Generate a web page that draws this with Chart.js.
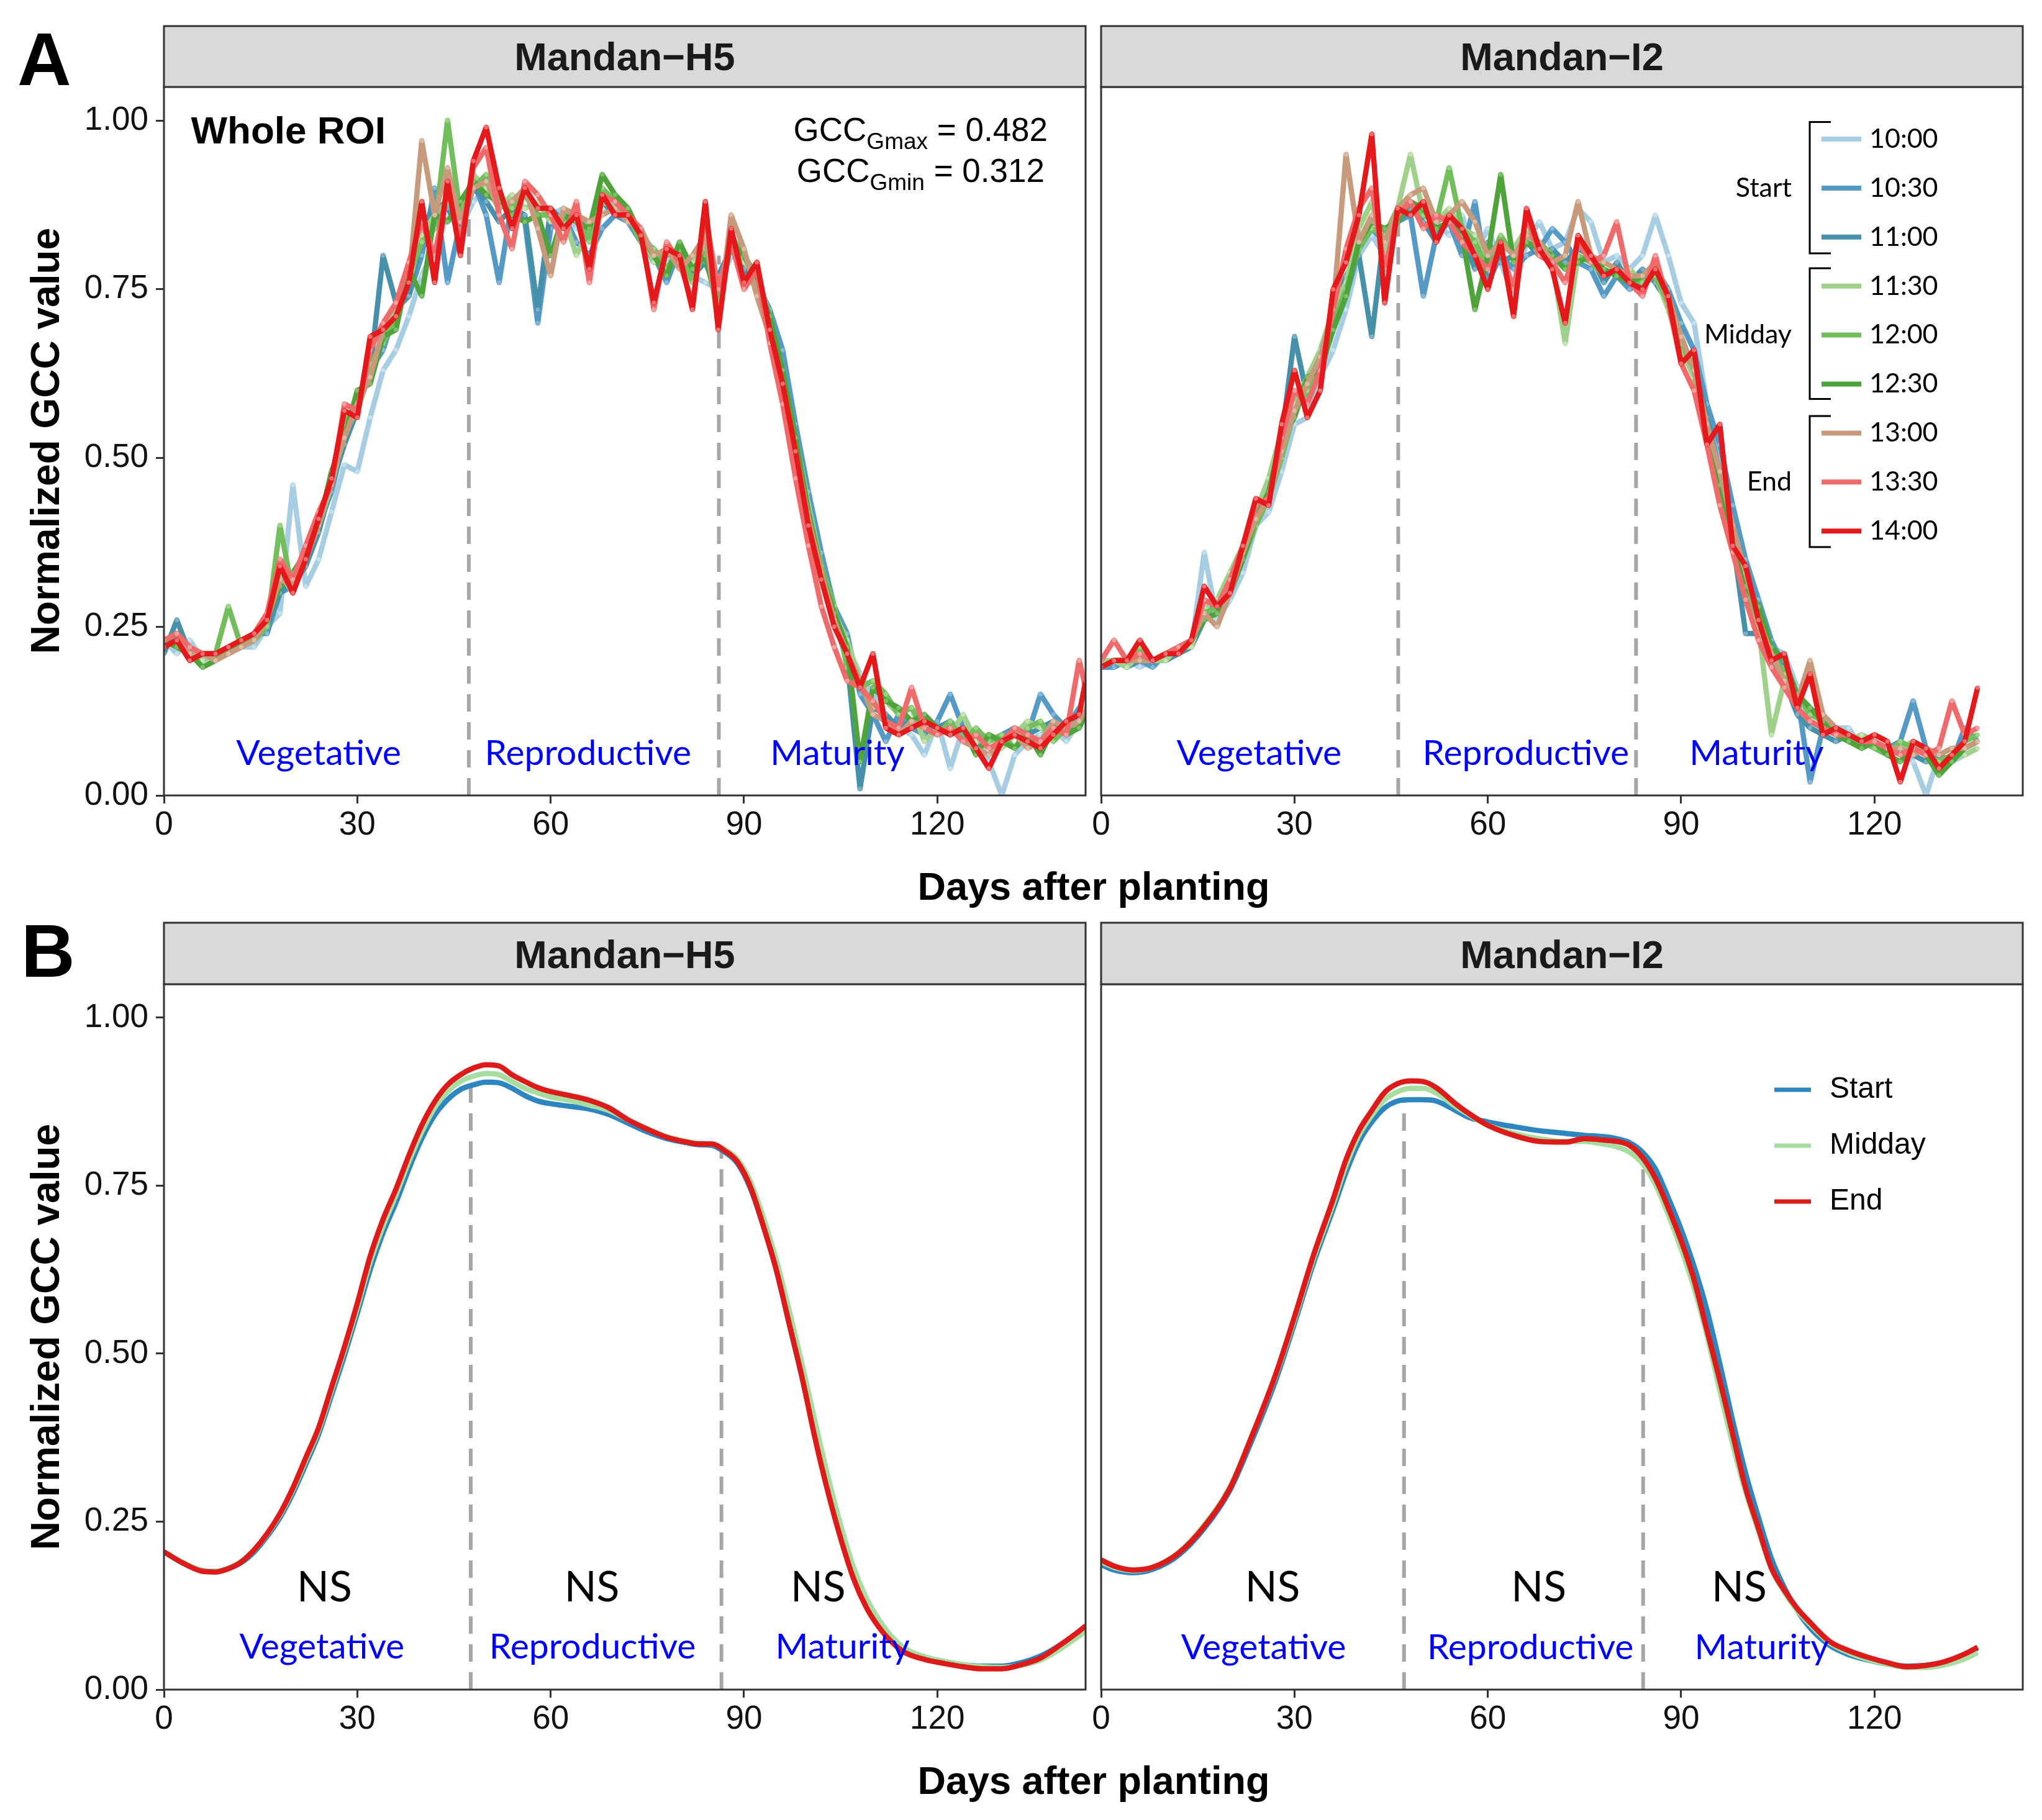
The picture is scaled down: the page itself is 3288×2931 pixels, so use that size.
<!DOCTYPE html>
<html><head><meta charset="utf-8">
<script src="https://cdn.jsdelivr.net/npm/chart.js@4.4.1/dist/chart.umd.min.js"></script>
<style>
html,body{margin:0;padding:0;background:#fff;}
#page{position:relative;width:3288px;height:2931px;overflow:hidden;background:#fff;}
.wrap{position:absolute;}
canvas{display:block;}
#ov{position:absolute;left:0;top:0;pointer-events:none;}
</style></head>
<body><div id="page"></div>
<script>
// ---------------- DATA ----------------
const timeLabels = ['10:00','10:30','11:00','11:30','12:00','12:30','13:00','13:30','14:00'];
const groupLabels = ['Start','Midday','End'];
const siteNames = ['Mandan\u2212H5','Mandan\u2212I2'];
const stageNames = ['Vegetative','Reproductive','Maturity'];
const xTicks = [0,30,60,90,120];
const yTicks = [0,0.25,0.5,0.75,1];

// Panel A, Mandan-H5 (days after planting)
const daysH5A = [0,2,4,6,8,10,12,14,16,18,20,22,24,26,28,30,32,34,36,38,40,42,44,46,48,50,52,54,56,58,60,62,64,66,68,70,72,74,76,78,80,82,84,86,88,90,92,94,96,98,100,102,104,106,108,110,112,114,116,118,120,122,124,126,128,130,132,134,136,138,140,142,143];
const h5_1000 = [.23,.21,.23,.20,.21,.21,.22,.22,.25,.27,.46,.31,.35,.42,.49,.48,.56,.63,.66,.71,.77,.81,.86,.84,.88,.90,.88,.86,.89,.86,.86,.87,.84,.85,.86,.88,.85,.83,.81,.79,.80,.77,.76,.75,.80,.79,.77,.71,.64,.55,.44,.34,.27,.22,.18,.15,.12,.10,.09,.06,.11,.04,.10,.09,.05,.00,.06,.08,.09,.10,.08,.11,.12];
const h5_1030 = [.22,.24,.20,.21,.20,.22,.22,.24,.24,.30,.31,.34,.40,.45,.53,.57,.63,.66,.72,.74,.80,.90,.76,.85,.91,.86,.76,.88,.85,.70,.84,.86,.82,.80,.84,.86,.85,.82,.80,.76,.81,.78,.79,.74,.82,.77,.76,.72,.66,.55,.45,.36,.28,.24,.15,.12,.08,.12,.10,.09,.11,.15,.10,.07,.08,.09,.10,.09,.15,.12,.10,.13,.12];
const h5_1100 = [.21,.26,.21,.20,.21,.21,.22,.23,.25,.30,.32,.34,.39,.46,.52,.57,.63,.80,.73,.74,.83,.88,.87,.84,.90,.88,.85,.87,.86,.72,.87,.85,.86,.83,.88,.86,.86,.83,.79,.80,.81,.77,.79,.77,.81,.78,.75,.70,.63,.53,.42,.33,.26,.20,.01,.13,.12,.10,.11,.09,.10,.11,.09,.08,.09,.08,.10,.09,.10,.11,.09,.12,.13];
const h5_1130 = [.23,.22,.21,.20,.21,.22,.22,.23,.26,.33,.30,.36,.40,.46,.54,.57,.63,.68,.72,.76,.83,.86,.88,.86,.92,.90,.87,.89,.87,.88,.85,.86,.80,.84,.88,.87,.85,.84,.79,.81,.80,.79,.81,.75,.82,.79,.77,.71,.63,.53,.43,.34,.27,.23,.17,.13,.14,.12,.13,.08,.10,.09,.12,.08,.09,.07,.09,.11,.10,.09,.11,.10,.12];
const h5_1200 = [.22,.23,.20,.21,.21,.28,.22,.23,.25,.40,.30,.35,.41,.47,.55,.58,.64,.67,.71,.77,.82,.84,1.0,.86,.90,.92,.88,.87,.89,.86,.86,.85,.87,.82,.90,.88,.86,.82,.81,.78,.81,.76,.81,.73,.83,.80,.77,.70,.62,.52,.42,.34,.28,.19,.16,.17,.15,.12,.13,.10,.09,.11,.08,.10,.08,.09,.07,.10,.11,.08,.10,.11,.13];
const h5_1230 = [.23,.22,.21,.19,.20,.22,.22,.24,.26,.31,.33,.36,.40,.48,.53,.60,.61,.68,.69,.78,.74,.86,.85,.88,.91,.89,.88,.86,.85,.86,.80,.86,.85,.84,.92,.89,.87,.83,.80,.77,.82,.78,.80,.72,.82,.80,.76,.71,.63,.53,.42,.33,.27,.22,.05,.16,.14,.13,.11,.12,.10,.09,.10,.06,.09,.08,.07,.09,.06,.10,.09,.10,.12];
const h5_1300 = [.22,.23,.21,.21,.20,.21,.22,.23,.26,.32,.31,.35,.40,.47,.53,.58,.62,.69,.71,.76,.97,.86,.93,.85,.90,.91,.87,.88,.90,.84,.77,.87,.86,.85,.86,.87,.85,.84,.80,.81,.78,.80,.83,.70,.86,.81,.74,.68,.61,.51,.41,.33,.26,.21,.17,.12,.11,.09,.11,.10,.09,.10,.08,.07,.06,.08,.09,.07,.08,.11,.10,.11,.13];
const h5_1330 = [.23,.24,.22,.21,.21,.22,.23,.24,.27,.35,.32,.37,.42,.46,.58,.57,.66,.70,.73,.79,.85,.80,.90,.82,.93,.96,.86,.81,.91,.89,.86,.82,.88,.76,.89,.88,.86,.84,.72,.82,.79,.73,.86,.75,.82,.75,.78,.67,.58,.47,.37,.28,.22,.17,.16,.14,.11,.10,.16,.10,.09,.10,.08,.09,.07,.08,.10,.09,.08,.10,.09,.20,.16];
const h5_1400 = [.22,.23,.20,.21,.21,.22,.23,.24,.26,.34,.30,.35,.41,.47,.57,.56,.68,.69,.71,.76,.88,.76,.91,.80,.94,.99,.90,.84,.90,.87,.87,.84,.86,.78,.89,.86,.86,.83,.73,.81,.80,.72,.88,.69,.84,.76,.79,.69,.61,.51,.40,.32,.25,.21,.16,.21,.10,.09,.10,.11,.10,.09,.10,.07,.04,.08,.09,.08,.07,.09,.11,.12,.17];

// Panel A, Mandan-I2
const daysI2A = [0,2,4,6,8,10,12,14,16,18,20,22,24,26,28,30,32,34,36,38,40,42,44,46,48,50,52,54,56,58,60,62,64,66,68,70,72,74,76,78,80,82,84,86,88,90,92,94,96,98,100,102,104,106,108,110,112,114,116,118,120,122,124,126,128,130,132,134,136];
const i2_1000 = [.19,.19,.20,.19,.20,.20,.21,.22,.36,.26,.29,.33,.40,.42,.48,.55,.56,.62,.66,.72,.80,.83,.80,.86,.86,.88,.85,.83,.86,.80,.84,.79,.74,.82,.85,.81,.82,.87,.85,.79,.80,.78,.80,.86,.80,.73,.70,.58,.50,.42,.33,.27,.22,.21,.16,.11,.09,.10,.10,.07,.08,.06,.07,.05,.00,.06,.05,.06,.07];
const i2_1030 = [.19,.19,.20,.20,.19,.21,.21,.23,.27,.28,.31,.36,.41,.46,.51,.57,.61,.63,.69,.74,.81,.84,.82,.85,.86,.74,.83,.85,.80,.88,.76,.80,.78,.80,.81,.84,.82,.79,.78,.74,.77,.75,.76,.78,.75,.70,.66,.58,.52,.43,.35,.29,.23,.19,.15,.02,.10,.09,.08,.09,.08,.07,.08,.14,.07,.06,.05,.10,.08];
const i2_1100 = [.19,.20,.19,.20,.20,.20,.21,.22,.26,.29,.30,.35,.42,.46,.53,.68,.59,.64,.71,.77,.80,.68,.84,.85,.87,.85,.82,.86,.83,.78,.82,.79,.80,.82,.80,.81,.79,.81,.80,.76,.79,.76,.78,.76,.73,.66,.64,.56,.48,.38,.24,.24,.20,.17,.12,.10,.09,.08,.09,.07,.08,.06,.07,.06,.05,.06,.05,.07,.08];
const i2_1130 = [.20,.20,.19,.21,.20,.20,.22,.22,.28,.29,.33,.37,.42,.47,.54,.58,.62,.66,.72,.76,.84,.88,.80,.87,.95,.86,.85,.87,.84,.83,.79,.82,.81,.84,.80,.79,.67,.80,.79,.78,.77,.78,.76,.77,.72,.66,.62,.53,.45,.38,.31,.25,.09,.17,.13,.11,.10,.09,.08,.09,.08,.07,.07,.08,.06,.05,.06,.06,.07];
const i2_1200 = [.19,.20,.20,.22,.20,.21,.21,.23,.27,.28,.31,.35,.40,.44,.50,.57,.60,.64,.70,.75,.81,.84,.83,.87,.88,.86,.85,.93,.84,.82,.78,.83,.80,.83,.82,.80,.78,.80,.79,.77,.78,.77,.76,.77,.73,.67,.63,.55,.47,.39,.31,.26,.21,.18,.15,.12,.11,.10,.08,.08,.07,.06,.08,.07,.06,.05,.06,.08,.09];
const i2_1230 = [.19,.20,.20,.20,.20,.21,.22,.23,.26,.27,.30,.35,.41,.45,.53,.56,.62,.63,.69,.74,.82,.85,.84,.85,.88,.87,.84,.85,.83,.72,.80,.92,.79,.82,.81,.80,.78,.79,.80,.78,.77,.76,.77,.78,.74,.68,.63,.54,.46,.38,.31,.28,.22,.20,.15,.13,.11,.09,.08,.07,.08,.06,.05,.07,.06,.03,.05,.07,.08];
const i2_1300 = [.19,.20,.20,.20,.20,.21,.21,.23,.27,.25,.30,.36,.41,.44,.51,.57,.61,.65,.72,.95,.82,.86,.82,.87,.89,.90,.85,.86,.88,.85,.80,.82,.80,.83,.82,.79,.80,.88,.80,.79,.78,.77,.77,.79,.74,.68,.63,.55,.48,.40,.33,.26,.21,.17,.14,.20,.12,.10,.09,.08,.08,.07,.07,.06,.07,.06,.07,.07,.08];
const i2_1330 = [.20,.23,.20,.21,.20,.21,.22,.23,.29,.28,.32,.37,.43,.44,.53,.60,.58,.63,.72,.81,.87,.90,.78,.86,.88,.84,.86,.85,.82,.80,.78,.81,.75,.86,.80,.79,.76,.82,.79,.80,.85,.76,.74,.80,.73,.64,.60,.52,.43,.36,.29,.23,.19,.16,.13,.11,.10,.09,.09,.08,.08,.07,.06,.07,.06,.07,.14,.09,.10];
const i2_1400 = [.19,.20,.20,.23,.20,.21,.21,.23,.31,.28,.30,.37,.44,.43,.55,.63,.56,.60,.75,.79,.86,.98,.73,.87,.86,.88,.82,.86,.84,.80,.75,.82,.71,.87,.81,.78,.70,.83,.80,.77,.78,.76,.75,.78,.74,.64,.66,.52,.55,.37,.34,.26,.20,.21,.13,.18,.09,.10,.09,.08,.09,.08,.02,.08,.07,.04,.06,.08,.16];

// Panel B (smoothed), Mandan-H5
const daysH5B = [0,3,6,8,10,12,14,16,18,20,22,24,26,28,30,32,34,36,38,40,42,44,46,48,50,52,54,56,58,60,63,66,69,72,75,78,81,83,85,87,89,91,93,95,97,99,101,103,105,107,109,111,113,115,118,121,124,127,130,133,136,139,142,143];
const h5B_start = [.205,.188,.177,.176,.180,.189,.205,.228,.256,.292,.335,.380,.438,.497,.560,.625,.680,.725,.775,.820,.855,.878,.893,.900,.904,.903,.895,.884,.876,.872,.868,.864,.856,.843,.830,.820,.814,.811,.810,.800,.783,.746,.690,.625,.545,.465,.378,.298,.228,.168,.126,.096,.074,.059,.048,.042,.037,.035,.035,.040,.050,.066,.086,.093];
const h5B_mid = [.205,.189,.177,.176,.181,.191,.208,.231,.260,.297,.341,.386,.445,.505,.568,.636,.690,.736,.786,.830,.866,.890,.905,.913,.917,.915,.905,.895,.888,.882,.877,.870,.862,.848,.835,.823,.816,.813,.812,.804,.789,.756,.703,.640,.565,.485,.400,.318,.245,.182,.136,.103,.078,.061,.049,.042,.037,.034,.033,.036,.044,.060,.080,.087];
const h5B_end = [.205,.188,.176,.175,.180,.190,.208,.232,.262,.300,.345,.390,.450,.510,.575,.645,.700,.745,.795,.840,.875,.900,.915,.925,.930,.928,.915,.905,.896,.890,.884,.877,.866,.848,.834,.822,.815,.812,.812,.802,.785,.748,.690,.625,.545,.465,.375,.295,.225,.165,.122,.092,.070,.055,.045,.039,.034,.031,.031,.037,.047,.066,.087,.095];

// Panel B (smoothed), Mandan-I2
const daysI2B = [0,2,5,8,12,16,20,23,27,30,33,36,38,40,42,44,46,48,50,52,55,57,60,64,68,72,75,78,80,82,84,86,88,90,92,94,96,98,100,102,104,106,108,110,113,116,119,122,125,128,131,134,136];
const i2B_start = [.186,.178,.174,.179,.200,.240,.297,.362,.458,.545,.636,.715,.770,.815,.845,.866,.876,.878,.878,.876,.862,.852,.845,.838,.832,.828,.825,.823,.820,.814,.800,.775,.732,.685,.630,.565,.485,.400,.322,.256,.195,.152,.118,.092,.066,.052,.044,.038,.035,.036,.041,.052,.062];
const i2B_mid = [.190,.182,.177,.182,.204,.245,.302,.369,.465,.551,.643,.723,.780,.825,.855,.878,.890,.895,.895,.888,.868,.856,.840,.828,.820,.816,.816,.812,.808,.800,.783,.752,.707,.656,.598,.528,.445,.365,.295,.236,.180,.145,.118,.097,.070,.055,.045,.038,.033,.033,.037,.046,.055];
const i2B_end = [.193,.184,.178,.182,.203,.243,.300,.368,.467,.555,.648,.730,.789,.832,.862,.889,.902,.906,.905,.896,.872,.858,.840,.825,.816,.815,.820,.818,.816,.810,.792,.761,.717,.668,.610,.535,.460,.380,.300,.240,.181,.148,.121,.100,.072,.058,.048,.040,.034,.036,.042,.053,.063];

// Stage boundaries (day) and the curve height where the dashed line stops
const stageDaysH5A = [47.3, 86.1], stageTopH5A = [0.89, 0.80];
const stageDaysI2A = [46.1, 83.0], stageTopI2A = [0.87, 0.79];
const stageDaysH5B = [47.6, 86.5], stageTopH5B = [0.897, 0.806];
const stageDaysI2B = [47.0, 84.1], stageTopI2B = [0.878, 0.80];

const gccText = [['GCC','Gmax',' = 0.482'],['GCC','Gmin',' = 0.312']];

// ---------------- STYLE ----------------
const FONT = "'Liberation Sans', Arial, sans-serif";
const ANNOT = "Lato, 'Open Sans', sans-serif";
const cols9 = ['#a6cde2','#5599c5','#4690aa','#a0d18c','#73be5c','#4ea43a','#c79a7c','#ef6a6a','#e3191c'];
const dots9 = ['#c6e0ef','#86b8dc','#7db0c4','#c4e4b6','#9dd48a','#7cc06b','#ddbca6','#f7a0a0','#f07070'];
const cols3 = ['#2e86c1','#a8dda2','#de1b1b'];
const page = document.getElementById('page');

function sized(cv, w, h){ w=Math.round(w); h=Math.round(h); cv.width=w; cv.height=h; cv.style.width=w+'px'; cv.style.height=h+'px'; }

function build(target, cfgFn){
  const wrap = document.createElement('div'); wrap.className='wrap';
  const cv = document.createElement('canvas'); wrap.appendChild(cv); page.appendChild(wrap);
  let W = target.w + 400, H = target.h + 300;
  sized(cv, W, H);
  let ch = new Chart(cv, cfgFn());
  let ca = ch.chartArea;
  const ox = W - (ca.right - ca.left), oy = H - (ca.bottom - ca.top);
  ch.destroy();
  W = target.w + ox; H = target.h + oy;
  sized(cv, W, H);
  ch = new Chart(cv, cfgFn());
  ca = ch.chartArea;
  wrap.style.left = (target.x - ca.left) + 'px';
  wrap.style.top = (target.y - ca.top) + 'px';
  return ch;
}

function gridOpts(){ return {display:true, drawOnChartArea:false, drawTicks:true, tickLength:13, tickWidth:3, tickColor:'#333'}; }
function xScale(){ return {
  type:'linear', min:0, max:143,
  afterBuildTicks: s => { s.ticks = xTicks.map(v => ({value:v})); },
  afterFit: s => { s.height = 95; },
  grid: gridOpts(), border:{display:false},
  ticks:{font:{family:FONT,size:53}, color:'#111', padding:4, maxRotation:0, autoSkip:false, callback:v=>String(v)}
};}
function yScale(show){
  const s = {type:'linear', min:0, max:1.05, display:show, grid:gridOpts(), border:{display:false},
    afterBuildTicks: a => { a.ticks = yTicks.map(v => ({value:v})); },
    ticks:{font:{family:FONT,size:53}, color:'#111', padding:12, callback:v=>Number(v).toFixed(2)}};
  if (show) s.afterFit = a => { a.width = 200; };
  return s;
}

function vlineSets(days, tops){
  return days.map((d,i)=>({label:'stage'+i, data:[{x:d,y:0},{x:d,y:tops[i]}], borderColor:'#a6a6a6', borderWidth:6,
    borderDash:[28,17], pointRadius:0, order:100, tension:0}));
}
function seriesA(days, list){
  return list.map((vals,i)=>({label:timeLabels[i], data:days.map((d,j)=>({x:d,y:vals[j]})),
    borderColor:cols9[i], backgroundColor:dots9[i], borderWidth:8.5, pointRadius:3.5, pointBorderWidth:0,
    pointBackgroundColor:dots9[i], tension:0, borderJoinStyle:'round', order:list.length-i}));
}
function seriesB(days, list){
  return list.map((vals,i)=>({label:groupLabels[i], data:days.map((d,j)=>({x:d,y:vals[j]})),
    borderColor:cols3[i], borderWidth:8.5, pointRadius:0, cubicInterpolationMode:'monotone', order:list.length-i}));
}

function decoPlugin(spec){
  return { id:'deco', afterDraw(chart){
    const ctx = chart.ctx, ca = chart.chartArea, xs = chart.scales.x, ys = chart.scales.y;
    ctx.save();
    ctx.beginPath(); ctx.rect(ca.left, ca.top, ca.right-ca.left, ca.bottom-ca.top); ctx.clip();
    (spec.texts||[]).forEach(t=>{
      ctx.font = t.font; ctx.fillStyle = t.color; ctx.textAlign = t.align||'center'; ctx.textBaseline='alphabetic';
      ctx.fillText(t.text, xs.getPixelForValue(t.x), ys.getPixelForValue(t.y));
    });
    if (spec.gcc){
      const mainF = '53px '+FONT, subF = '37px '+FONT;
      spec.gcc.lines.forEach((ln,k)=>{
        ctx.font = mainF; const w1 = ctx.measureText(ln[0]).width, w3 = ctx.measureText(ln[2]).width;
        ctx.font = subF; const w2 = ctx.measureText(ln[1]).width;
        let x = xs.getPixelForValue(spec.gcc.x) - (w1+w2+w3)/2; const y = ys.getPixelForValue(spec.gcc.y[k]);
        ctx.fillStyle='#000'; ctx.textAlign='left'; ctx.textBaseline='alphabetic';
        ctx.font = mainF; ctx.fillText(ln[0], x, y); x += w1;
        ctx.font = subF; ctx.fillText(ln[1], x, y+13); x += w2;
        ctx.font = mainF; ctx.fillText(ln[2], x, y);
      });
    }
    if (spec.legendA){
      const R = ca.right, T = ca.top;
      const rows = timeLabels.map((_,i)=>84 + i*78.9);
      timeLabels.forEach((lab,i)=>{
        ctx.strokeStyle = cols9[i]; ctx.lineWidth = 8; ctx.lineCap='butt';
        ctx.beginPath(); ctx.moveTo(R-324, T+rows[i]); ctx.lineTo(R-260, T+rows[i]); ctx.stroke();
        ctx.fillStyle='#000'; ctx.font='43px '+ANNOT; ctx.textAlign='left'; ctx.textBaseline='middle';
        ctx.fillText(lab, R-247, T+rows[i]);
      });
      [[56.5,268],[292,502.5],[530,741]].forEach((b,g)=>{
        ctx.strokeStyle='#000'; ctx.lineWidth=3; ctx.lineJoin='miter';
        ctx.beginPath(); ctx.moveTo(R-309, T+b[0]); ctx.lineTo(R-343, T+b[0]); ctx.lineTo(R-343, T+b[1]); ctx.lineTo(R-309, T+b[1]); ctx.stroke();
        ctx.fillStyle='#000'; ctx.font='43px '+ANNOT; ctx.textAlign='right'; ctx.textBaseline='middle';
        ctx.fillText(groupLabels[g], R-372, T+rows[g*3+1]);
      });
    }
    if (spec.legendB){
      const R = ca.right, T = ca.top;
      groupLabels.forEach((lab,i)=>{
        const y = T + 170 + i*90;
        ctx.strokeStyle = cols3[i]; ctx.lineWidth = 7; ctx.lineCap='butt';
        ctx.beginPath(); ctx.moveTo(R-400, y); ctx.lineTo(R-341, y); ctx.stroke();
        ctx.fillStyle='#000'; ctx.font='48px '+FONT; ctx.textAlign='left'; ctx.textBaseline='middle';
        ctx.fillText(lab, R-311, y);
      });
    }
    ctx.restore();
    ctx.save();
    ctx.strokeStyle='#333'; ctx.lineWidth=3;
    ctx.strokeRect(ca.left, ca.top, ca.right-ca.left, ca.bottom-ca.top);
    ctx.restore();
  }};
}

function stageTexts(xs, y, font){
  return stageNames.map((n,i)=>({text:n, x:xs[i], y:y, font:font, color:'#0000ff'}));
}
function nsTexts(xs){
  return xs.map(x=>({text:'NS', x:x, y:0.131, font:'68px '+ANNOT, color:'#000'}));
}

function makeCfg(datasets, showY, spec){
  return () => ({
    type:'line',
    data:{datasets: datasets()},
    options:{
      responsive:false, maintainAspectRatio:false, animation:false, devicePixelRatio:1, events:[],
      layout:{padding:{left: showY?10:40, right:30, top:40, bottom:10}},
      plugins:{legend:{display:false}, tooltip:{enabled:false}},
      scales:{x:xScale(), y:yScale(showY)}
    },
    plugins:[decoPlugin(spec)]
  });
}

const SF = '57px '+ANNOT;
build({x:264,y:140,w:1484,h:1141}, makeCfg(
  () => vlineSets(stageDaysH5A, stageTopH5A).concat(seriesA(daysH5A,[h5_1000,h5_1030,h5_1100,h5_1130,h5_1200,h5_1230,h5_1300,h5_1330,h5_1400])),
  true,
  {texts: stageTexts([24,65.8,104.5], 0.045, SF).concat([{text:'Whole ROI', x:4.2, y:0.966, font:'bold 62px '+FONT, color:'#000', align:'left'}]),
   gcc:{x:117.4, y:[0.9696,0.9088], lines:gccText}}
));
build({x:1773,y:140,w:1484,h:1141}, makeCfg(
  () => vlineSets(stageDaysI2A, stageTopI2A).concat(seriesA(daysI2A,[i2_1000,i2_1030,i2_1100,i2_1130,i2_1200,i2_1230,i2_1300,i2_1330,i2_1400])),
  false,
  {texts: stageTexts([24.5,65.9,101.7], 0.045, SF), legendA:true}
));
build({x:264,y:1585,w:1484,h:1136}, makeCfg(
  () => vlineSets(stageDaysH5B, stageTopH5B).concat(seriesB(daysH5B,[h5B_start,h5B_mid,h5B_end])),
  true,
  {texts: stageTexts([24.5,66.5,105.3], 0.046, SF).concat(nsTexts([24.9,66.4,101.5]))}
));
build({x:1773,y:1585,w:1484,h:1136}, makeCfg(
  () => vlineSets(stageDaysI2B, stageTopI2B).concat(seriesB(daysI2B,[i2B_start,i2B_mid,i2B_end])),
  false,
  {texts: stageTexts([25.2,66.6,102.5], 0.045, SF).concat(nsTexts([26.6,67.9,99])), legendB:true}
));

// ---------------- static frame text (strips, titles, panel letters) ----------------
const NS_ = 'http://www.w3.org/2000/svg';
const svg = document.createElementNS(NS_,'svg');
svg.setAttribute('id','ov'); svg.setAttribute('width','3288'); svg.setAttribute('height','2931');
function el(tag, attrs, text){ const e=document.createElementNS(NS_,tag); for(const k in attrs) e.setAttribute(k, attrs[k]); if(text!==undefined) e.textContent=text; svg.appendChild(e); return e; }
[[42,98,113],[1486,99,1559]].forEach(r=>{
  [264,1773].forEach((x,i)=>{
    el('rect',{x:x,y:r[0],width:1484,height:r[1],fill:'#d9d9d9',stroke:'#333','stroke-width':3});
    el('text',{x:x+742,y:r[2],'text-anchor':'middle','font-family':FONT,'font-weight':'bold','font-size':63,fill:'#1a1a1a'}, siteNames[i]);
  });
});
el('text',{x:28,y:137,'font-family':FONT,'font-weight':'bold','font-size':120,fill:'#000'},'A');
el('text',{x:34,y:1573,'font-family':FONT,'font-weight':'bold','font-size':120,fill:'#000'},'B');
[[710],[2153]].forEach(c=>{
  el('text',{x:0,y:0,transform:'translate(95,'+c[0]+') rotate(-90)','text-anchor':'middle','font-family':FONT,'font-weight':'bold','font-size':64,fill:'#000'},'Normalized GCC value');
});
[1449,2889].forEach(y=>{
  el('text',{x:1761,y:y,'text-anchor':'middle','font-family':FONT,'font-weight':'bold','font-size':63,fill:'#000'},'Days after planting');
});
page.appendChild(svg);
</script>
</body></html>
